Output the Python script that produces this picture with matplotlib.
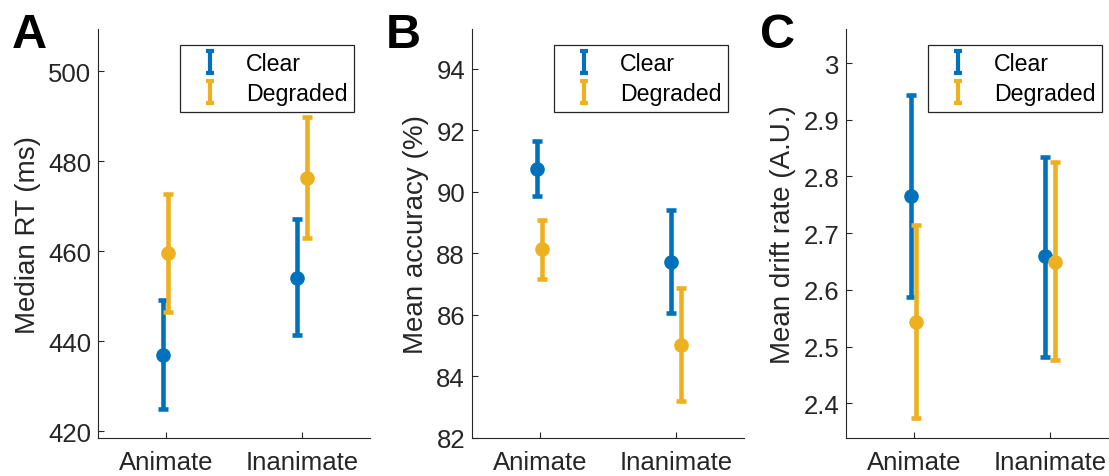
import matplotlib
matplotlib.use("Agg")
import matplotlib.pyplot as plt
from matplotlib.path import Path
from matplotlib.lines import Line2D
import numpy as np

plt.rcParams["font.family"] = ["Liberation Sans", "DejaVu Sans"]

C_BLUE = "#0072BD"
C_YELLOW = "#EDB120"
C_AX = "#262626"

conditions = ["Animate", "Inanimate"]
series = ["Clear", "Degraded"]

# Panel A: median RT (ms)
rt_clear = [437.0, 454.1]
rt_clear_lo = [425.0, 441.4]
rt_clear_hi = [449.2, 467.1]
rt_degr = [459.6, 476.3]
rt_degr_lo = [446.4, 463.0]
rt_degr_hi = [472.7, 489.9]

# Panel B: mean accuracy (%)
acc_clear = [90.74, 87.72]
acc_clear_lo = [89.87, 86.07]
acc_clear_hi = [91.66, 89.42]
acc_degr = [88.14, 85.02]
acc_degr_lo = [87.16, 83.20]
acc_degr_hi = [89.10, 86.88]

# Panel C: mean drift rate (A.U.)
dr_clear = [2.765, 2.659]
dr_clear_lo = [2.588, 2.482]
dr_clear_hi = [2.943, 2.835]
dr_degr = [2.544, 2.650]
dr_degr_lo = [2.375, 2.477]
dr_degr_hi = [2.715, 2.825]

panels = [
    ("A", "Median RT (ms)", (rt_clear, rt_clear_lo, rt_clear_hi),
     (rt_degr, rt_degr_lo, rt_degr_hi), (418.5, 509.4), [420, 440, 460, 480, 500], "{:.0f}"),
    ("B", "Mean accuracy (%)", (acc_clear, acc_clear_lo, acc_clear_hi),
     (acc_degr, acc_degr_lo, acc_degr_hi), (82.0, 95.3), [82, 84, 86, 88, 90, 92, 94], "{:.0f}"),
    ("C", "Mean drift rate (A.U.)", (dr_clear, dr_clear_lo, dr_clear_hi),
     (dr_degr, dr_degr_lo, dr_degr_hi), (2.339, 3.06), [2.4, 2.5, 2.6, 2.7, 2.8, 2.9, 3.0], "{:g}"),
]

W, H = 1109, 477
fig = plt.figure(figsize=(W / 100, H / 100), dpi=100)

ax_left = [98, 472, 846]
ax_w = 272
ax_top, ax_bot = 30, 439

# small horizontal jitter per condition (clear left, degraded right)
jit_clear = np.array([-0.024, -0.04])
jit_degr = np.array([0.016, 0.038])

# MATLAB-style errorbar legend icon
ibeam = Path([(-0.4, -1), (0.4, -1), (0, -1), (0, 1), (-0.4, 1), (0.4, 1)],
             [Path.MOVETO, Path.LINETO, Path.MOVETO, Path.LINETO, Path.MOVETO, Path.LINETO])

x = np.arange(1, len(conditions) + 1)

for i, (letter, ylabel, clr, deg, ylim, yticks, fmt) in enumerate(panels):
    ax = fig.add_axes([ax_left[i] / W, 1 - ax_bot / H, ax_w / W, (ax_bot - ax_top) / H])
    for (m, lo, hi), col, jit in [(clr, C_BLUE, jit_clear), (deg, C_YELLOW, jit_degr)]:
        m = np.array(m); lo = np.array(lo); hi = np.array(hi)
        ax.errorbar(x + jit, m, yerr=[m - lo, hi - m], fmt="o", color=col,
                    ms=9.5, elinewidth=3.3, capsize=3.8, capthick=3.3, zorder=3)
    ax.set_xlim(0.5, 2.5)
    ax.set_ylim(*ylim)
    ax.set_xticks(x)
    ax.set_xticklabels(conditions)
    ax.set_yticks(yticks)
    ax.set_yticklabels([fmt.format(v) for v in yticks])
    ax.tick_params(direction="in", length=4, width=0.8, colors=C_AX,
                   labelsize=18.5, pad=5)
    ax.tick_params(axis="x", pad=9)
    for s in ["top", "right"]:
        ax.spines[s].set_visible(False)
    for s in ["left", "bottom"]:
        ax.spines[s].set_color(C_AX)
        ax.spines[s].set_linewidth(0.8)
    ax.set_ylabel(ylabel, fontsize=20, color=C_AX, labelpad=5)

    handles = [Line2D([], [], marker=ibeam, ls="none", ms=15.5, mew=3.0,
                      color=c, fillstyle="none") for c in (C_BLUE, C_YELLOW)]
    leg = ax.legend(handles, series, loc="upper right", bbox_to_anchor=(0.943, 0.961),
                    borderaxespad=0, fontsize=16.7, fancybox=False, framealpha=1,
                    edgecolor=C_AX, handlelength=2.0, handletextpad=0.55,
                    borderpad=0.3, labelspacing=0.3)
    leg.get_frame().set_linewidth(0.9)

    fig.text((ax_left[i] - 86) / W, 1 - 13 / H, letter, fontsize=35, fontweight="bold",
             ha="left", va="top", color="black")

fig.savefig("out.png", dpi=100)
